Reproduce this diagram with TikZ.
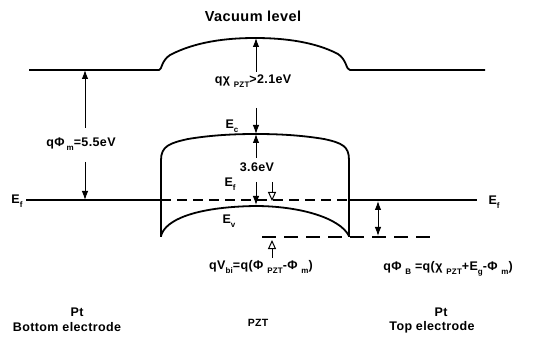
\documentclass[tikz,border=0pt]{standalone}
\usepackage{fontspec}
\setmainfont{Liberation Sans}[LetterSpace=3]
\usetikzlibrary{arrows.meta}
\newcommand{\lsub}[1]{\raisebox{-3.5pt}{\fontsize{8}{9}\selectfont #1}}
\begin{document}
\begin{tikzpicture}[x=1pt,y=-1pt,
  lbl/.style={inner sep=0pt, font=\fontsize{12.5}{14}\selectfont\bfseries},
  big/.style={inner sep=0pt, font=\fontsize{14.5}{16}\selectfont\bfseries},
  small/.style={inner sep=0pt, font=\fontsize{10.5}{12}\selectfont\bfseries},
  band/.style={line width=1.8pt, line join=round},
  level/.style={line width=1.2pt},
  arr/.style={line width=1pt, -{Latex[length=9pt,width=6.5pt]}},
  darr/.style={line width=1pt, {Latex[length=9pt,width=6.5pt]}-{Latex[length=9pt,width=6.5pt]}},
  oarr/.style={line width=1pt, -{Triangle[open,length=9pt,width=8pt,line width=1pt]}},
]
\fill[white] (0,0) rectangle (536,342);
\useasboundingbox (0,0) rectangle (536,342);

% vacuum level
\draw[band] (29,70) -- (159,70) .. controls (162,70) and (161,61) .. (170,55)
  .. controls (195,42) and (225,38) .. (255,38)
  .. controls (285,38) and (315,42) .. (338,54)
  .. controls (347,60) and (346,70) .. (350,70) -- (485,70);

% conduction band
\draw[band] (161,237) -- (161,160) .. controls (161,146) and (170,143) .. (188,139)
  .. controls (212,135) and (235,134) .. (256,134)
  .. controls (277,134) and (300,135) .. (324,139)
  .. controls (342,143) and (349,146) .. (349,160) -- (349,237);

% valence band
\draw[band] (161,236) .. controls (165,220) and (195,207) .. (255,206)
  .. controls (300,206) and (340,218) .. (349,236);

% Fermi level
\draw[level] (26,200) -- (161,200);
\draw[level, dash pattern=on 10pt off 6pt] (161,200) -- (349,200);
\draw[level] (349,200) -- (477,200);

% lower dashed level
\draw[line width=2.2pt, dash pattern=on 14pt off 8pt] (262,237) -- (437,237);

% labels
\node[big] (vac) at (253,16) {Vacuum level};
\node[lbl] (chi) at (253,81) {qχ \lsub{PZT}>2.1eV};
\node[lbl] (phim) at (81,144) {qΦ\,\lsub{m}=5.5eV};
\node[lbl] (ec) at (232,126) {E\lsub{c}};
\node[lbl] (gap) at (257,167) {3.6eV};
\node[lbl] (efi) at (230,184) {E\lsub{f}};
\node[lbl] (ev) at (229,221) {E\lsub{v}};
\node[lbl] (efl) at (17,201) {E\lsub{f}};
\node[lbl] (efr) at (494,202) {E\lsub{f}};
\node[lbl] (vbi) at (261,267) {qV\lsub{bi}=q(Φ \lsub{PZT}-Φ \lsub{m})};
\node[lbl] (phib) at (448,269) {qΦ \lsub{B} =q(χ \lsub{PZT}+E\lsub{g}-Φ \lsub{m})};
\node[lbl] (pt1) at (77,312) {Pt};
\node[lbl] (be) at (67,327) {Bottom electrode};
\node[small] (pzt) at (258,323) {PZT};
\node[lbl] (pt2) at (441,312) {Pt};
\node[lbl] (te) at (432,327) {Top electrode};

% arrows
\coordinate (a1s) at (85,128); \coordinate (a1e) at (85,70);
\coordinate (a2s) at (85,162); \coordinate (a2e) at (85,200);
\draw[arr] (a1s) -- (a1e);
\draw[arr] (a2s) -- (a2e);
\coordinate (c1s) at (256,72); \coordinate (c1e) at (256,38);
\draw[arr] (c1s) -- (c1e);
\coordinate (e1s) at (256,108); \coordinate (e1e) at (256,134);
\coordinate (e2s) at (256,158);
\draw[arr] (e1s) -- (e1e);
\draw[arr] (e2s) -- (e1e);
\coordinate (g1s) at (256,182); \coordinate (g1e) at (256,205);
\draw[arr] (g1s) -- (g1e);
\coordinate (o1s) at (272,182); \coordinate (o1e) at (272,201);
\draw[oarr] (o1s) -- (o1e);
\coordinate (o2s) at (272,258); \coordinate (o2e) at (272,240);
\draw[oarr] (o2s) -- (o2e);
\coordinate (d1) at (378,201); \coordinate (d2) at (378,236);
\draw[darr] (d1) -- (d2);
\end{tikzpicture}
\end{document}
